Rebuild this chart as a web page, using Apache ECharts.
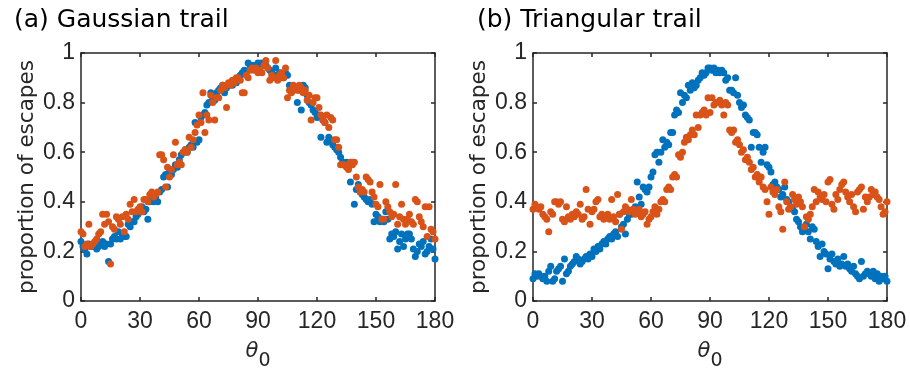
<!DOCTYPE html>
<html>
<head>
<meta charset="utf-8">
<script src="https://cdn.jsdelivr.net/npm/echarts@6/dist/echarts.min.js"></script>
<style>html,body{margin:0;padding:0;background:#fff}#c{width:910px;height:376px}</style>
</head>
<body>
<div id="c"></div>
<script>
// theta_0 in degrees, 0..180 step 1
const thetaStart = 0;
const panelTitles = ['(a) Gaussian trail', '(b) Triangular trail'];
const xTicks = [0, 30, 60, 90, 120, 150, 180];
const yTicks = [0, 0.2, 0.4, 0.6, 0.8, 1];

const gaussBlue = [
0.24,0.22,0.21,0.19,0.23,0.22,0.22,0.23,0.21,0.22,
0.23,0.24,0.22,0.23,0.16,0.23,0.25,0.26,0.25,0.28,
0.25,0.27,0.26,0.26,0.31,0.30,0.32,0.32,0.34,0.35,
0.37,0.38,0.36,0.37,0.33,0.40,0.41,0.40,0.42,0.40,
0.44,0.45,0.50,0.51,0.46,0.52,0.51,0.53,0.55,0.54,
0.57,0.59,0.60,0.61,0.60,0.62,0.63,0.62,0.72,0.64,
0.65,0.74,0.75,0.76,0.79,0.80,0.84,0.82,0.81,0.84,
0.85,0.86,0.87,0.84,0.86,0.87,0.88,0.87,0.89,0.88,
0.90,0.91,0.92,0.93,0.92,0.96,0.94,0.95,0.95,0.94,
0.96,0.95,0.96,0.95,0.95,0.94,0.93,0.92,0.91,0.94,
0.91,0.92,0.90,0.90,0.92,0.91,0.87,0.86,0.85,0.86,
0.80,0.85,0.77,0.87,0.86,0.83,0.80,0.79,0.77,0.76,
0.74,0.75,0.66,0.73,0.72,0.64,0.66,0.65,0.63,0.62,
0.61,0.60,0.58,0.56,0.55,0.56,0.54,0.48,0.56,0.39,
0.45,0.47,0.44,0.43,0.42,0.41,0.40,0.41,0.39,0.32,
0.35,0.34,0.32,0.33,0.32,0.36,0.33,0.25,0.27,0.26,
0.28,0.21,0.24,0.27,0.22,0.25,0.27,0.27,0.25,0.21,
0.18,0.20,0.23,0.22,0.24,0.19,0.20,0.22,0.25,0.21,
0.17];

const gaussOrange = [
0.28,0.27,0.22,0.23,0.31,0.22,0.23,0.24,0.25,0.27,
0.28,0.35,0.31,0.35,0.32,0.15,0.30,0.29,0.34,0.33,
0.31,0.34,0.28,0.35,0.33,0.39,0.36,0.41,0.36,0.37,
0.38,0.36,0.41,0.41,0.40,0.43,0.44,0.42,0.43,0.44,
0.59,0.59,0.57,0.46,0.54,0.50,0.53,0.59,0.64,0.55,
0.56,0.55,0.60,0.61,0.60,0.66,0.62,0.65,0.68,0.71,
0.75,0.72,0.84,0.68,0.75,0.73,0.83,0.80,0.73,0.82,
0.82,0.85,0.87,0.86,0.78,0.88,0.87,0.89,0.88,0.90,
0.90,0.89,0.84,0.84,0.91,0.90,0.93,0.94,0.93,0.94,
0.92,0.93,0.92,0.95,0.97,0.94,0.89,0.91,0.90,0.97,
0.89,0.91,0.92,0.90,0.94,0.82,0.85,0.84,0.87,0.86,
0.85,0.87,0.86,0.84,0.85,0.81,0.83,0.73,0.80,0.82,
0.82,0.78,0.75,0.73,0.72,0.75,0.70,0.74,0.73,0.65,
0.65,0.62,0.55,0.55,0.55,0.54,0.53,0.56,0.55,0.56,
0.50,0.46,0.44,0.45,0.44,0.50,0.49,0.48,0.44,0.42,
0.39,0.38,0.47,0.33,0.33,0.40,0.38,0.36,0.34,0.35,
0.47,0.31,0.34,0.39,0.33,0.31,0.33,0.35,0.32,0.31,
0.41,0.40,0.34,0.32,0.30,0.38,0.26,0.38,0.29,0.28,
0.25];

const triBlue = [
0.09,0.11,0.10,0.11,0.10,0.09,0.10,0.08,0.12,0.14,
0.08,0.09,0.12,0.13,0.14,0.08,0.17,0.11,0.12,0.14,
0.15,0.16,0.18,0.17,0.15,0.16,0.17,0.18,0.17,0.19,
0.18,0.21,0.20,0.22,0.21,0.23,0.24,0.23,0.25,0.26,
0.25,0.27,0.28,0.26,0.35,0.30,0.31,0.27,0.33,0.35,
0.35,0.37,0.38,0.48,0.42,0.39,0.46,0.45,0.44,0.46,
0.50,0.52,0.59,0.60,0.56,0.60,0.65,0.62,0.64,0.63,
0.68,0.68,0.75,0.77,0.76,0.84,0.80,0.83,0.82,0.87,
0.85,0.88,0.86,0.87,0.89,0.90,0.92,0.91,0.92,0.94,
0.94,0.93,0.94,0.92,0.93,0.92,0.93,0.92,0.89,0.90,
0.85,0.85,0.84,0.90,0.83,0.80,0.78,0.79,0.75,0.74,
0.73,0.62,0.68,0.68,0.67,0.62,0.56,0.60,0.62,0.55,
0.54,0.52,0.47,0.48,0.46,0.45,0.42,0.43,0.46,0.41,
0.40,0.38,0.37,0.36,0.33,0.32,0.30,0.28,0.29,0.31,
0.28,0.25,0.30,0.29,0.24,0.22,0.18,0.23,0.20,0.19,
0.13,0.17,0.19,0.16,0.15,0.17,0.14,0.15,0.18,0.14,
0.15,0.13,0.12,0.14,0.11,0.10,0.09,0.16,0.10,0.11,
0.12,0.11,0.10,0.12,0.09,0.11,0.08,0.10,0.09,0.10,
0.08];

const triOrange = [
0.37,0.39,0.38,0.37,0.38,0.35,0.34,0.33,0.28,0.36,
0.35,0.40,0.40,0.39,0.40,0.33,0.32,0.38,0.34,0.33,
0.35,0.34,0.36,0.35,0.39,0.33,0.34,0.45,0.37,0.31,
0.36,0.37,0.40,0.41,0.34,0.35,0.33,0.34,0.35,0.33,
0.41,0.34,0.32,0.43,0.35,0.29,0.36,0.38,0.37,0.36,
0.41,0.37,0.35,0.36,0.37,0.34,0.35,0.36,0.31,0.33,
0.34,0.36,0.38,0.35,0.37,0.40,0.41,0.40,0.45,0.46,
0.45,0.50,0.51,0.50,0.59,0.58,0.60,0.64,0.66,0.65,
0.67,0.69,0.67,0.75,0.70,0.75,0.76,0.77,0.75,0.82,
0.76,0.82,0.79,0.80,0.80,0.81,0.79,0.75,0.80,0.79,
0.69,0.68,0.69,0.64,0.65,0.63,0.60,0.61,0.57,0.58,
0.56,0.53,0.54,0.50,0.51,0.48,0.50,0.46,0.45,0.40,
0.35,0.46,0.44,0.43,0.45,0.38,0.36,0.29,0.48,0.40,
0.37,0.38,0.43,0.41,0.39,0.42,0.40,0.38,0.30,0.34,
0.33,0.35,0.38,0.45,0.40,0.44,0.42,0.41,0.43,0.40,
0.48,0.49,0.39,0.37,0.43,0.41,0.45,0.47,0.48,0.44,
0.42,0.40,0.43,0.38,0.36,0.44,0.45,0.46,0.37,0.42,
0.40,0.42,0.45,0.43,0.44,0.42,0.41,0.38,0.35,0.36,
0.40];

const BLUE = '#0072BD', ORANGE = '#D95319', AX = '#262626';
const toPts = arr => arr.map((v, i) => [thetaStart + i, v]);

const chart = echarts.init(document.getElementById('c'), null, {renderer: 'canvas'});
const grids = [
  {left: 81, top: 53, width: 354, height: 255},
  {left: 533, top: 53, width: 354, height: 255}
];
const xAxes = [], yAxes = [];
grids.forEach((g, gi) => {
  const common = {min: xTicks[0], max: xTicks[xTicks.length-1], interval: 30, gridIndex: gi, splitLine: {show: false},
    axisLine: {show: true, onZero: false, lineStyle: {color: AX, width: 1.5}},
    axisTick: {show: true, inside: true, length: 4, lineStyle: {color: AX, width: 1.5}}};
  xAxes.push(Object.assign({}, common, {type: 'value', position: 'bottom',
    axisLabel: {color: AX, fontFamily: 'Liberation Sans', fontSize: 23, margin: 9},
    name: '{t|θ}{s|0}', nameLocation: 'middle', nameGap: 35,
    nameTextStyle: {rich: {
      t: {fontFamily: 'DejaVu Sans', fontStyle: 'italic', fontSize: 21, color: AX, verticalAlign: 'top', lineHeight: 30},
      s: {fontFamily: 'DejaVu Sans', fontSize: 19, color: AX, verticalAlign: 'bottom', lineHeight: 30, padding: [14,0,0,0]}
    }}}));
  xAxes.push(Object.assign({}, common, {type: 'value', position: 'top', axisLabel: {show: false}}));
  const ycommon = {min: 0, max: 1, interval: 0.2, gridIndex: gi, splitLine: {show: false},
    axisLine: {show: true, onZero: false, lineStyle: {color: AX, width: 1.5}},
    axisTick: {show: true, inside: true, length: 4, lineStyle: {color: AX, width: 1.5}}};
  yAxes.push(Object.assign({}, ycommon, {type: 'value', position: 'left',
    axisLabel: {color: AX, fontFamily: 'Liberation Sans', fontSize: 23, margin: 6,
      formatter: v => (v === 0 || v === 1) ? String(v) : v.toFixed(1)},
    name: 'proportion of escapes', nameLocation: 'middle', nameGap: 43,
    nameTextStyle: {color: AX, fontFamily: 'DejaVu Sans', fontSize: 21.5}}));
  yAxes.push(Object.assign({}, ycommon, {type: 'value', position: 'right', axisLabel: {show: false}}));
});

const mk = (data, color, gi) => ({
  type: 'scatter', xAxisIndex: gi*2, yAxisIndex: gi*2, data: toPts(data),
  symbol: 'circle', symbolSize: 7, itemStyle: {color: color, opacity: 1}, silent: true, animation: false
});

chart.setOption({
  animation: false,
  title: [
    {text: panelTitles[0], left: 9, top: 3, textStyle: {fontFamily: 'DejaVu Sans', fontWeight: 'normal', fontSize: 25, color: '#000'}},
    {text: panelTitles[1], left: 472, top: 3, textStyle: {fontFamily: 'DejaVu Sans', fontWeight: 'normal', fontSize: 25, color: '#000'}}
  ],
  grid: grids,
  xAxis: xAxes,
  yAxis: yAxes,
  series: [
    mk(gaussBlue, BLUE, 0), mk(gaussOrange, ORANGE, 0),
    mk(triBlue, BLUE, 1), mk(triOrange, ORANGE, 1)
  ]
});
</script>
</body>
</html>
